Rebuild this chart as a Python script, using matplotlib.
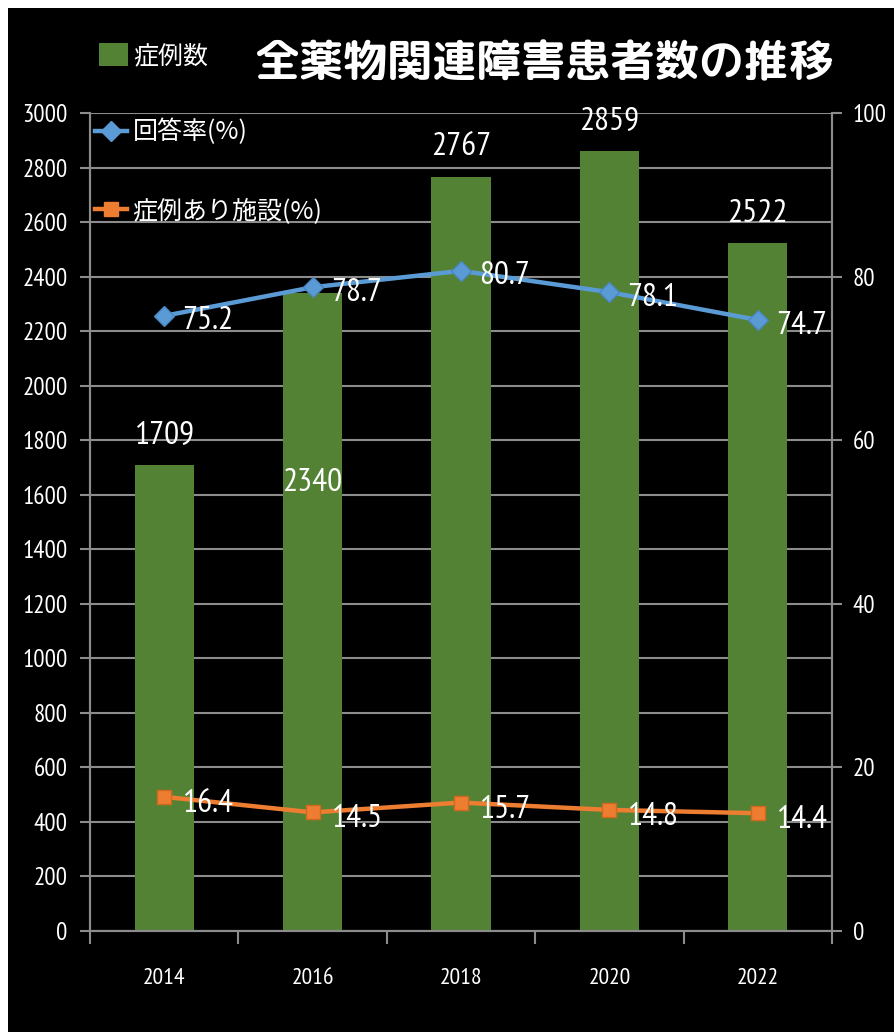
import matplotlib
matplotlib.use("Agg")
import matplotlib.pyplot as plt
from matplotlib.patches import Rectangle, Patch
from matplotlib.lines import Line2D

years = ["2014", "2016", "2018", "2020", "2022"]
cases = [1709, 2340, 2767, 2859, 2522]
response_rate = [75.2, 78.7, 80.7, 78.1, 74.7]
facility_rate = [16.4, 14.5, 15.7, 14.8, 14.4]

title = "全薬物関連障害患者数の推移"
lab_cases = "症例数"
lab_resp = "回答率(%)"
lab_fac = "症例あり施設(%)"

NUM = ["PT Sans Narrow", "DejaVu Sans"]
CJK = ["Noto Sans CJK JP", "DejaVu Sans"]
TITLE_F = ["Rounded Mplus 1c Bold", "Noto Sans CJK JP", "DejaVu Sans"]

GREEN = "#548235"
BLUE = "#5B9BD5"
ORANGE = "#ED7D31"
GRID = "#8C8C8C"

fig = plt.figure(figsize=(8.95, 10.32), dpi=100, facecolor="white")
fig.patches.append(Rectangle((8 / 895, 0), 1, 1 - 8 / 1032, transform=fig.transFigure,
                             facecolor="black", edgecolor="none", zorder=-10))

ax = fig.add_axes([90 / 895, 101 / 1032, 742 / 895, 818 / 1032])
ax.set_facecolor("none")
ax2 = ax.twinx()

x = list(range(len(years)))
ax.bar(x, cases, width=0.4, color=GREEN, zorder=2)
ax.set_xlim(-0.5, len(years) - 0.5)
ax.set_ylim(0, 3000)
ax.set_yticks(range(0, 3001, 200))
ax.grid(axis="y", color=GRID, linewidth=1.5, zorder=0)
ax.set_axisbelow(True)

ax2.set_ylim(0, 100)
ax2.set_yticks(range(0, 101, 20))

for a in (ax, ax2):
    for s in a.spines.values():
        s.set_color(GRID)
        s.set_linewidth(1.5)
    a.spines["top"].set_visible(False)

ax.set_xticks(x)
ax.set_xticklabels(years, fontsize=17, color="white", family=NUM)
ax.set_xticks([i - 0.5 for i in range(len(years) + 1)], minor=True)
ax.tick_params(axis="x", which="major", length=0, pad=27)
ax.tick_params(axis="x", which="minor", length=9, width=1.5, color=GRID, direction="out")
ax.tick_params(axis="y", length=7, width=1.5, color=GRID, labelsize=18,
               labelcolor="white", pad=9)
for t in ax.get_yticklabels():
    t.set_family(NUM)
ax2.tick_params(axis="y", length=7, width=1.5, color=GRID, labelsize=18,
                labelcolor="white", pad=8)
for t in ax2.get_yticklabels():
    t.set_family(NUM)

ax2.plot(x, response_rate, color=BLUE, linewidth=3.2, marker="D", markersize=10,
         markerfacecolor=BLUE, markeredgecolor="#4A86BF", zorder=3)
ax2.plot(x, facility_rate, color=ORANGE, linewidth=3.2, marker="s", markersize=10,
         markerfacecolor=ORANGE, markeredgecolor="#D0691F", zorder=3)

for i, v in enumerate(cases):
    dy = -137 if i == 1 else 21
    ax.annotate(str(v), (i, v), xytext=(0, dy), textcoords="offset points",
                ha="center", va="center", fontsize=24, color="white", family=NUM,
                zorder=5)
for i, v in enumerate(response_rate):
    ax2.annotate(f"{v}", (i, v), xytext=(13, -4), textcoords="offset points",
                 ha="left", va="center", fontsize=24, color="white", family=NUM,
                 zorder=5)
for i, v in enumerate(facility_rate):
    ax2.annotate(f"{v}", (i, v), xytext=(13, -5), textcoords="offset points",
                 ha="left", va="center", fontsize=24, color="white", family=NUM,
                 zorder=5)

h1 = [Patch(facecolor=GREEN, edgecolor="none")]
fig.legend(h1, [lab_cases], loc="upper left", bbox_to_anchor=(99 / 895, 1 - 43 / 1032),
           frameon=False, prop={"family": CJK, "size": 18}, labelcolor="white",
           handlelength=1.15, handleheight=1.0, handletextpad=0.2,
           borderpad=0, borderaxespad=0)
h2 = [Line2D([], [], color=BLUE, linewidth=3.2, marker="D", markersize=10),
      Line2D([], [], color=ORANGE, linewidth=3.2, marker="s", markersize=10)]
fig.legend(h2, [lab_resp, lab_fac], loc="upper left",
           bbox_to_anchor=(95 / 895, 1 - 119 / 1032),
           frameon=False, prop={"family": CJK, "size": 18}, labelcolor="white",
           handlelength=1.3, handletextpad=0.2, labelspacing=2.1,
           borderpad=0, borderaxespad=0)

fig.text(543 / 895, 1 - 65 / 1032, title, ha="center", va="center", fontsize=32,
         fontweight="bold", color="white", family=TITLE_F)

fig.savefig("out.png", dpi=100, facecolor=fig.get_facecolor())
